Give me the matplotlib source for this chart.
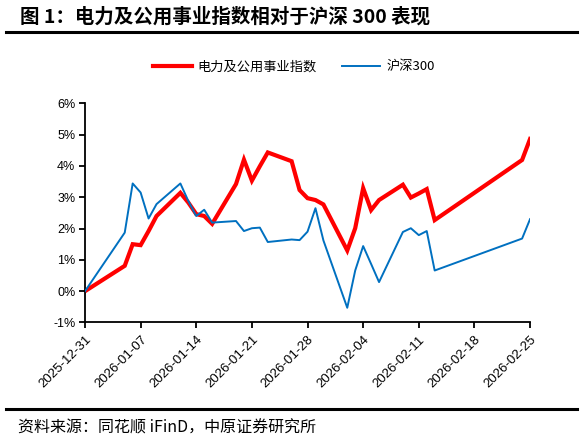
import matplotlib
matplotlib.use("Agg")
import matplotlib.pyplot as plt
import matplotlib.dates as mdates
from matplotlib.ticker import PercentFormatter, MultipleLocator
from matplotlib.lines import Line2D
import pandas as pd

plt.rcParams['font.family'] = ['Liberation Sans', 'Noto Sans CJK SC', 'DejaVu Sans']
plt.rcParams['axes.unicode_minus'] = False

dates = ['2025-12-31', '2026-01-05', '2026-01-06', '2026-01-07', '2026-01-08', '2026-01-09',
         '2026-01-12', '2026-01-13', '2026-01-14', '2026-01-15', '2026-01-16',
         '2026-01-19', '2026-01-20', '2026-01-21', '2026-01-22', '2026-01-23',
         '2026-01-26', '2026-01-27', '2026-01-28', '2026-01-29', '2026-01-30',
         '2026-02-02', '2026-02-03', '2026-02-04', '2026-02-05', '2026-02-06',
         '2026-02-09', '2026-02-10', '2026-02-11', '2026-02-12', '2026-02-13',
         '2026-02-24', '2026-02-25']

utility = [0.00, 0.81, 1.50, 1.47, 1.92, 2.40,
           3.14, 2.83, 2.46, 2.40, 2.15,
           3.42, 4.20, 3.53, 3.99, 4.43,
           4.15, 3.23, 2.97, 2.91, 2.77,
           1.30, 2.01, 3.29, 2.59, 2.91,
           3.40, 2.99, 3.12, 3.26, 2.27,
           4.19, 4.86]

hs300 = [0.00, 1.87, 3.44, 3.15, 2.32, 2.78,
         3.44, 2.88, 2.40, 2.60, 2.19,
         2.24, 1.92, 2.01, 2.03, 1.57,
         1.65, 1.63, 1.90, 2.65, 1.62,
         -0.53, 0.66, 1.44, 0.87, 0.29,
         1.89, 2.01, 1.79, 1.92, 0.66,
         1.68, 2.30]

series_names = ['电力及公用事业指数', '沪深300']
tick_dates = ['2025-12-31', '2026-01-07', '2026-01-14', '2026-01-21', '2026-01-28',
              '2026-02-04', '2026-02-11', '2026-02-18', '2026-02-25']

title_text = '图 1：电力及公用事业指数相对于沪深 300 表现'
source_text = '资料来源：同花顺 iFinD，中原证券研究所'

x = pd.to_datetime(dates)
ticks = pd.to_datetime(tick_dates)

fig = plt.figure(figsize=(5.81, 4.42), dpi=100)
ax = fig.add_axes([0.1463, 0.2704, 0.766, 0.4959])

red = '#FF0000'
blue = '#0070C0'
ax.plot(x, utility, color=red, lw=3.0, solid_joinstyle='miter', zorder=2)
ax.plot(x, hs300, color=blue, lw=1.4, zorder=3)

ax.set_xlim(ticks[0], ticks[-1])
ax.set_ylim(-1, 6)
ax.yaxis.set_major_locator(MultipleLocator(1))
ax.yaxis.set_major_formatter(PercentFormatter(decimals=0))
ax.set_xticks(ticks)
ax.xaxis.set_major_formatter(mdates.DateFormatter('%Y-%m-%d'))
for lab in ax.get_xticklabels():
    lab.set_rotation(45)
    lab.set_ha('right')
    lab.set_rotation_mode('anchor')

for s in ['top', 'right']:
    ax.spines[s].set_visible(False)
for s in ['left', 'bottom']:
    ax.spines[s].set_linewidth(1.3)
    ax.spines[s].set_color('black')
ax.tick_params(axis='both', direction='out', length=4, width=1.3, colors='black', pad=3)
ax.tick_params(axis='y', labelsize=9)
ax.tick_params(axis='x', labelsize=9.5, pad=4)

handles = [Line2D([], [], color=red, lw=3.0), Line2D([], [], color=blue, lw=1.4)]
fig.legend(handles, series_names, loc='center', bbox_to_anchor=(0.506, 0.849), ncol=2,
           frameon=False, handlelength=2.9, handletextpad=0.45, columnspacing=1.9,
           prop={'family': ['Noto Sans CJK SC', 'DejaVu Sans'], 'size': 9.5})

fig.text(0.034, 0.962, title_text, fontsize=14, fontweight='bold', va='center', ha='left',
         family=['Noto Sans CJK SC', 'DejaVu Sans'])
fig.add_artist(Line2D([0.01, 0.993], [0.927, 0.927], transform=fig.transFigure, color='black', lw=2.2))
fig.add_artist(Line2D([0.01, 0.993], [0.0747, 0.0747], transform=fig.transFigure, color='black', lw=2.2))
fig.text(0.031, 0.032, source_text, fontsize=11.5, va='center', ha='left',
         family=['Noto Sans CJK SC', 'DejaVu Sans'])

fig.savefig('out.png', dpi=100, facecolor='white')
